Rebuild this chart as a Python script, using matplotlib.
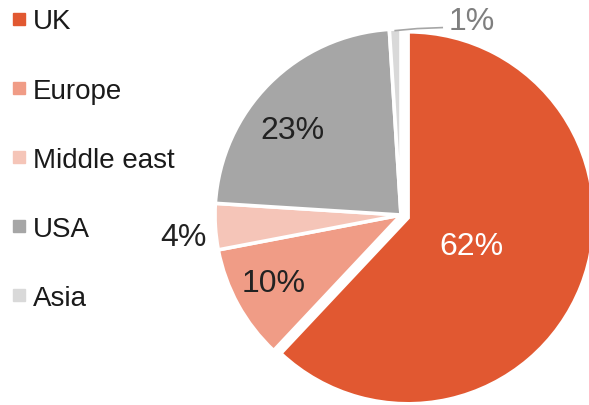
import matplotlib.pyplot as plt
import numpy as np
from matplotlib.lines import Line2D

plt.rcParams['font.family'] = ['Liberation Sans', 'DejaVu Sans']

# Data
regions = ['UK', 'Europe', 'Middle east', 'USA', 'Asia']
shares = [62, 10, 4, 23, 1]
colors = ['#E15831', '#F09C86', '#F5C5B8', '#A6A6A6', '#D9D9D9']
label_colors = ['white', '#222222', '#222222', '#222222', '#7F7F7F']

W, H = 589, 406
fig = plt.figure(figsize=(W / 100, H / 100), dpi=100)
ax = fig.add_axes([0, 0, 1, 1])

# pie drawn in pixel coordinates (y up)
cx, cy, r = 401, H - 216, 186
# pie offsets by explode in data units, so scale by the radius
explode = [0.041 * r, 0, 0, 0, 0]
wedges, _ = ax.pie(shares, colors=colors, startangle=90, counterclock=False,
                   center=(cx, cy), radius=r, explode=explode,
                   wedgeprops=dict(edgecolor='white', linewidth=2.6))

ax.set_xlim(0, W)
ax.set_ylim(0, H)
ax.set_aspect('auto')
ax.axis('off')

# percentage labels: distance (fraction of radius) and angle nudge (deg)
dists = [0.364, 0.767, 1.174, 0.753]
nudges = [0.0, -1.7, 1.3, 5.8]
fs = 23
half_cap = 0.716 * fs * 100 / 72 / 2
for w, val, col, d, dn in zip(wedges[:4], shares[:4], label_colors[:4], dists, nudges):
    ang = np.deg2rad((w.theta1 + w.theta2) / 2 + dn)
    x = w.center[0] + d * r * np.cos(ang)
    y = w.center[1] + d * r * np.sin(ang)
    ax.text(x, y - half_cap, f'{val}%', color=col, fontsize=fs,
            ha='center', va='baseline')

# small slice label with leader line
w = wedges[4]
ang = np.deg2rad((w.theta1 + w.theta2) / 2)
x0 = cx + (r - 1.5) * np.cos(ang)
y0 = cy + (r - 1.5) * np.sin(ang)
ax.plot([x0, x0 + 22, x0 + 47], [y0, y0 + 2, y0 + 3], color='#A6A6A6', lw=1.2)
ax.text(x0 + 53, y0 + 13 - half_cap, f'{shares[4]}%', color=label_colors[4],
        fontsize=fs, ha='left', va='baseline')

# legend
handles = [Line2D([], [], marker='s', ls='', color=c, markersize=8) for c in colors]
ax.legend(handles, regions, loc='upper left', bbox_to_anchor=(0.0, 1.004),
          frameon=False, fontsize=20, labelspacing=1.55, handlelength=0.6,
          handletextpad=0.19, borderaxespad=0.0, labelcolor='#1a1a1a')

fig.savefig('out.png', dpi=100)
